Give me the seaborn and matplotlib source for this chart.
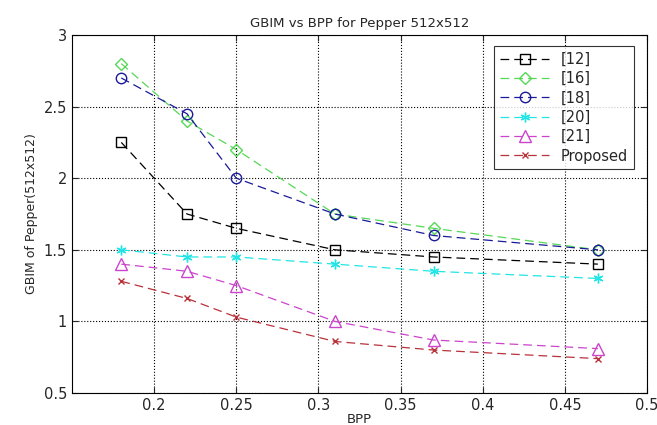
import pandas as pd
import matplotlib.pyplot as plt
import seaborn as sns

BPP = [0.18, 0.22, 0.25, 0.31, 0.37, 0.47]
REF_12 = [2.25, 1.75, 1.65, 1.50, 1.45, 1.40]
REF_16 = [2.80, 2.40, 2.20, 1.75, 1.65, 1.50]
REF_18 = [2.70, 2.45, 2.00, 1.75, 1.60, 1.50]
REF_20 = [1.50, 1.45, 1.45, 1.40, 1.35, 1.30]
REF_21 = [1.40, 1.35, 1.25, 1.00, 0.87, 0.81]
PROPOSED = [1.28, 1.16, 1.03, 0.86, 0.80, 0.74]

SERIES = ["[12]", "[16]", "[18]", "[20]", "[21]", "Proposed"]
VALUES = [REF_12, REF_16, REF_18, REF_20, REF_21, PROPOSED]
COLORS = ["#000000", "#55d855", "#1a1a9a", "#22e5e5", "#cc44cc", "#b8323a"]
MARKERS = ["s", "D", "o", (6, 2, 0), "^", "x"]
SIZES = [7, 6, 7.5, 7, 8.5, 4.5]

sns.set_style("ticks")
plt.rcParams["font.family"] = ["DejaVu Sans"]

fig = plt.figure(figsize=(6.57, 4.25), dpi=100)
ax = fig.add_axes([0.1096, 0.0753, 0.8754, 0.8423])

long = pd.DataFrame({
    "BPP": BPP * len(SERIES),
    "GBIM": [v for vals in VALUES for v in vals],
    "method": [s for s in SERIES for _ in BPP],
})

# seaborn won't mix filled and line markers, so markers are swapped in afterwards
sns.lineplot(data=long, x="BPP", y="GBIM", hue="method", style="method",
             hue_order=SERIES, style_order=SERIES,
             palette=dict(zip(SERIES, COLORS)),
             markers={s: "o" for s in SERIES},
             dashes={s: (7, 4) for s in SERIES},
             linewidth=0.9, ax=ax)


def restyle(line, mk, col, ms):
    line.set_marker(mk)
    line.set_markersize(ms)
    line.set_markeredgecolor(col)
    line.set_markerfacecolor("none")
    line.set_markeredgewidth(1.0)
    line.set_linewidth(0.9)
    line.set_dashes((7, 4))


for line, mk, col, ms in zip(ax.get_lines(), MARKERS, COLORS, SIZES):
    restyle(line, mk, col, ms)

ax.set_xlim(0.15, 0.5)
ax.set_ylim(0.5, 3)
ax.set_xticks([0.2, 0.25, 0.3, 0.35, 0.4, 0.45, 0.5])
ax.set_xticklabels(["0.2", "0.25", "0.3", "0.35", "0.4", "0.45", "0.5"])
ax.set_yticks([0.5, 1, 1.5, 2, 2.5, 3])
ax.set_yticklabels(["0.5", "1", "1.5", "2", "2.5", "3"])
ax.grid(True, linestyle=":", color="black", linewidth=0.8)
ax.tick_params(direction="in", labelsize=10.5, top=True, right=True, length=4)
for sp in ax.spines.values():
    sp.set_color("black")
    sp.set_linewidth(0.8)

ax.set_title("GBIM vs BPP for Pepper 512x512", fontsize=9.5, pad=6)
ax.set_xlabel("BPP", fontsize=9.5, labelpad=0)
ax.set_ylabel("GBIM of Pepper(512x512)", fontsize=9)

handles, labels = ax.get_legend_handles_labels()
for h, mk, col, ms in zip(handles, MARKERS, COLORS, SIZES):
    restyle(h, mk, col, ms)
leg = ax.legend(handles, labels, loc="upper right", fontsize=10.5, frameon=True,
                fancybox=False, edgecolor="black", handlelength=3.4,
                borderpad=0.4, labelspacing=0.3, bbox_to_anchor=(0.99, 0.99))
leg.get_frame().set_linewidth(0.8)

plt.savefig("out.png", dpi=100)
